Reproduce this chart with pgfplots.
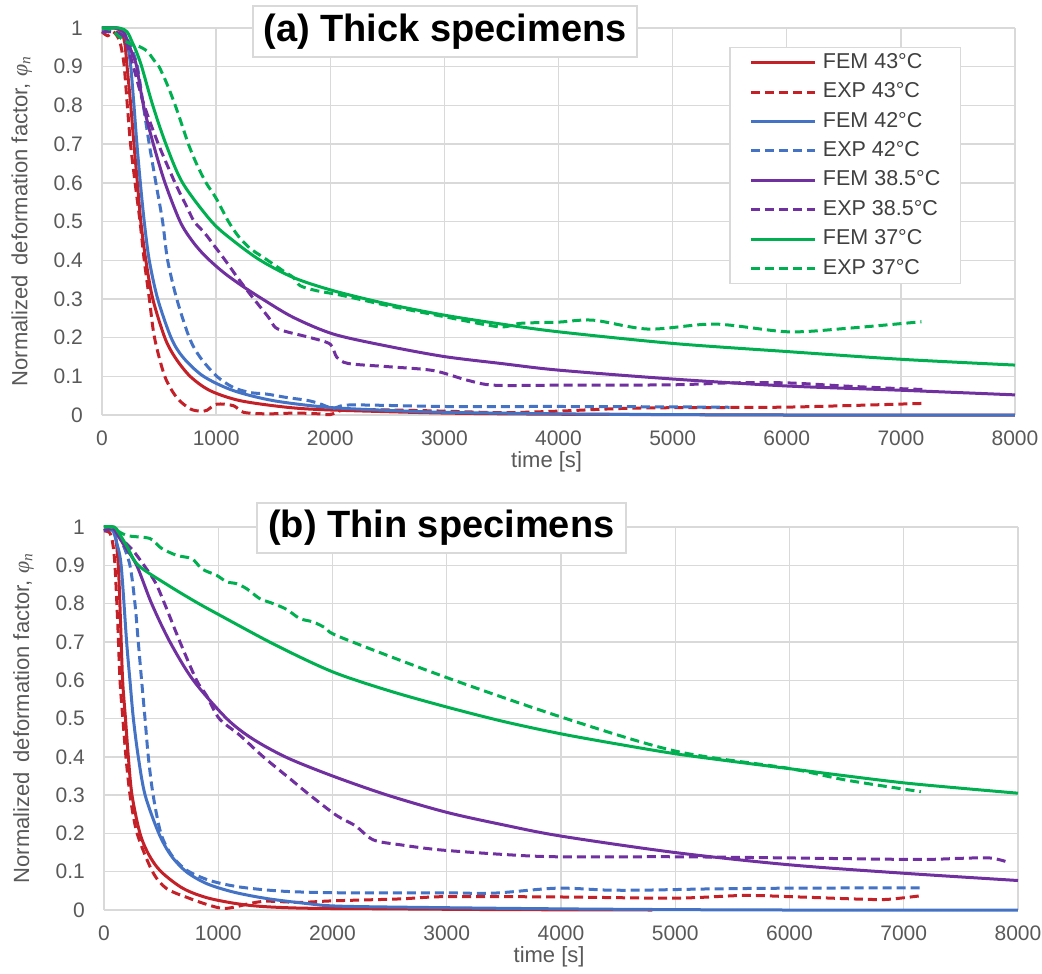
\documentclass[border=0pt]{standalone}
\usepackage{fontspec}
\setmainfont{Liberation Sans}
\newfontfamily\phifont{Liberation Serif}
\usepackage{pgfplots}
\pgfplotsset{compat=1.18}

\definecolor{cRed}{RGB}{196,32,40}
\definecolor{cBlue}{RGB}{68,114,196}
\definecolor{cPurple}{RGB}{112,48,160}
\definecolor{cGreen}{RGB}{0,176,80}
\definecolor{cGrid}{RGB}{217,217,217}
\definecolor{cText}{RGB}{89,89,89}
\definecolor{cLeg}{RGB}{64,64,64}

\tikzset{
  fem/.style={line width=3pt, smooth, tension=0.5},
  exp/.style={line width=3pt, smooth, tension=0.5, dash pattern=on 9pt off 5pt},
  titlebox/.style={draw=cGrid, line width=1.5pt, fill=white, inner sep=0pt,
    font=\bfseries\fontsize{38}{38}\selectfont, text=black},
}

\pgfplotsset{
  panel/.style={
    scale only axis, anchor=south west,
    xmin=0, xmax=8000, ymin=0, ymax=1,
    xtick={0,1000,2000,3000,4000,5000,6000,7000,8000},
    ytick={0,0.1,0.2,0.3,0.4,0.5,0.6,0.7,0.8,0.9,1},
    grid=major, grid style={cGrid, line width=1.4pt},
    axis line style={draw=none},
    major tick length=0pt,
    tick label style={font=\fontsize{21}{21}\selectfont, text=cText},
    /pgf/number format/assume math mode=true,
    /pgf/number format/1000 sep={},
    yticklabel style={anchor=east, inner sep=0pt, xshift=-19pt},
    xticklabel style={anchor=north, inner sep=0pt, yshift=-16pt},
    xlabel={time [s]},
    xlabel style={at={(axis description cs:0.487,0)}, anchor=base, yshift=-52pt,
      inner sep=0pt, font=\fontsize{22}{22}\selectfont, text=cText},
    ylabel={Normalized\hspace{0.45em}deformation factor, {\phifont\itshape φ\textsubscript{n}}},
    ylabel style={at={(axis description cs:-0.088,0.5)}, anchor=center,
      font=\fontsize{22}{22}\selectfont, text=cText},
    clip=false,
  },
}

\begin{document}
\begin{tikzpicture}
\path[use as bounding box] (0,0) rectangle (1042pt,-974pt);

% (a) thick specimens
\begin{axis}[panel, at={(102pt,-415pt)}, width=913pt, height=387pt,
  legend style={at={(0.687,0.951)}, anchor=north west, draw=cGrid, line width=1.5pt,
    fill=white, font=\fontsize{21.5}{21.5}\selectfont, text=cLeg,
    inner xsep=20pt, inner ysep=5pt, row sep=9.4pt,
    nodes={inner sep=0pt, text height=15.5pt, text depth=4.5pt},
    /tikz/every odd column/.append style={column sep=6pt}},
  legend cell align=left,
  legend image code/.code={\draw[#1] (0pt,0pt) -- (64pt,0pt);},
]
\addplot[fem, cRed] coordinates {(0,1)(110,1)(170,0.99)(200,0.96)(220,0.9)(252,0.8)(280,0.7)(310,0.6)(340,0.5)(384,0.4)(445,0.3)(550,0.2)(640,0.149)(772,0.1)(947,0.063)(1211,0.037)(1620,0.02)(2000,0.013)(3000,0.005)(4000,0.002)(5000,0.001)(6000,0)(8000,0)};
\addplot[exp, cRed] coordinates {(0,0.99)(50,0.98)(100,0.99)(150,0.97)(175,0.94)(195,0.9)(222,0.8)(250,0.7)(290,0.6)(333,0.5)(370,0.4)(415,0.3)(460,0.2)(550,0.1)(655,0.045)(772,0.016)(860,0.01)(918,0.012)(1006,0.028)(1152,0.024)(1240,0.007)(1444,0.003)(1700,0.005)(1900,0.003)(2000,0.001)(2100,0.012)(2300,0.014)(3000,0.01)(3500,0.006)(4000,0.01)(4700,0.018)(5900,0.02)(6500,0.024)(7200,0.03)};
\addplot[fem, cBlue] coordinates {(0,1)(130,1)(190,0.99)(222,0.96)(252,0.9)(280,0.8)(306,0.7)(336,0.6)(370,0.5)(414,0.4)(488,0.3)(605,0.2)(710,0.149)(889,0.1)(1152,0.063)(1503,0.037)(1971,0.02)(2500,0.012)(3000,0.007)(4000,0.003)(5000,0.001)(6000,0)(8000,0)};
\addplot[exp, cBlue] coordinates {(0,0.99)(100,0.99)(200,0.98)(255,0.95)(310,0.9)(362,0.8)(414,0.7)(472,0.6)(531,0.5)(575,0.4)(655,0.3)(765,0.2)(860,0.149)(1006,0.1)(1152,0.071)(1300,0.058)(1444,0.054)(1623,0.045)(1795,0.038)(1900,0.03)(2032,0.017)(2178,0.026)(3000,0.022)(4000,0.022)(5000,0.021)(5500,0.02)};
\addplot[fem, cPurple] coordinates {(0,1)(130,1)(190,0.99)(230,0.96)(270,0.93)(304,0.9)(363,0.8)(450,0.7)(552,0.6)(684,0.5)(790,0.45)(900,0.412)(1050,0.372)(1211,0.337)(1415,0.298)(1678,0.252)(2029,0.209)(2500,0.178)(3000,0.151)(3500,0.133)(4000,0.116)(5000,0.093)(6000,0.075)(7000,0.064)(8000,0.052)};
\addplot[exp, cPurple] coordinates {(0,0.99)(100,0.99)(180,0.98)(225,0.95)(275,0.9)(370,0.8)(494,0.7)(640,0.6)(740,0.54)(808,0.5)(900,0.47)(990,0.435)(1079,0.4)(1200,0.35)(1330,0.3)(1460,0.252)(1520,0.226)(1620,0.215)(1825,0.2)(2000,0.183)(2058,0.149)(2160,0.133)(2500,0.125)(2900,0.115)(3200,0.09)(3436,0.077)(4000,0.077)(5000,0.078)(5500,0.083)(6000,0.083)(6500,0.075)(7000,0.068)(7200,0.066)};
\addplot[fem, cGreen] coordinates {(0,1)(150,1)(220,0.99)(270,0.96)(300,0.94)(348,0.9)(445,0.8)(560,0.7)(706,0.6)(960,0.5)(1152,0.45)(1386,0.4)(1678,0.355)(2029,0.321)(2500,0.287)(3000,0.258)(3500,0.235)(4000,0.215)(5000,0.185)(6000,0.164)(7000,0.144)(8000,0.129)};
\addplot[exp, cGreen] coordinates {(0,1)(80,0.995)(160,0.975)(246,0.959)(304,0.955)(392,0.941)(460,0.915)(500,0.9)(570,0.855)(642,0.8)(700,0.75)(757,0.7)(830,0.648)(912,0.6)(1000,0.56)(1108,0.5)(1200,0.46)(1300,0.43)(1400,0.41)(1500,0.39)(1600,0.37)(1678,0.355)(1737,0.334)(1883,0.321)(2088,0.31)(2500,0.283)(3000,0.254)(3480,0.228)(3670,0.237)(4000,0.24)(4305,0.245)(4790,0.222)(5370,0.235)(6010,0.215)(6530,0.224)(7180,0.241)};
\legend{FEM 43°C, EXP 43°C, FEM 42°C, EXP 42°C, FEM 38.5°C, EXP 38.5°C, FEM 37°C, EXP 37°C}
\node[titlebox, minimum width=384pt, minimum height=51pt] at (rel axis cs:0.3757,0.991) {(a) Thick specimens};
\end{axis}

% (b) thin specimens
\begin{axis}[panel, at={(104pt,-910pt)}, width=914pt, height=383pt]
\addplot[fem, cRed] coordinates {(0,1)(60,1)(95,0.99)(125,0.9)(145,0.75)(163,0.6)(188,0.5)(213,0.4)(245,0.3)(315,0.2)(395,0.143)(500,0.1)(694,0.056)(927,0.03)(1277,0.012)(1714,0.005)(2500,0.003)(3500,0.001)(4800,0)};
\addplot[exp, cRed] coordinates {(0,0.99)(50,0.985)(75,0.96)(96,0.9)(120,0.75)(140,0.6)(165,0.5)(192,0.4)(228,0.3)(290,0.2)(425,0.1)(548,0.056)(752,0.03)(927,0.012)(1044,0.004)(1150,0.008)(1277,0.017)(1423,0.023)(1716,0.02)(2008,0.024)(2592,0.029)(3000,0.035)(4000,0.034)(5000,0.031)(5596,0.038)(5990,0.035)(6656,0.028)(6870,0.028)(7170,0.038)};
\addplot[fem, cBlue] coordinates {(0,1)(50,1)(80,0.99)(110,0.96)(150,0.9)(198,0.7)(227,0.6)(257,0.5)(300,0.4)(360,0.3)(480,0.2)(585,0.143)(720,0.1)(898,0.069)(1131,0.047)(1423,0.03)(1773,0.017)(2064,0.01)(3000,0.006)(4000,0.003)(5000,0.001)(6000,0)(8000,0)};
\addplot[exp, cBlue] coordinates {(0,0.99)(40,0.995)(82,0.987)(150,0.965)(227,0.9)(271,0.8)(300,0.7)(329,0.6)(359,0.5)(388,0.4)(430,0.3)(498,0.2)(592,0.143)(723,0.104)(927,0.077)(1190,0.06)(1569,0.049)(2064,0.045)(2940,0.045)(3407,0.044)(3962,0.057)(4400,0.052)(4744,0.052)(5290,0.055)(5990,0.057)(7170,0.058)};
\addplot[fem, cPurple] coordinates {(0,1)(70,1)(120,0.98)(180,0.95)(286,0.9)(417,0.8)(577,0.7)(781,0.6)(1073,0.5)(1300,0.447)(1600,0.398)(2000,0.35)(2480,0.3)(3000,0.255)(3500,0.222)(4000,0.193)(5000,0.15)(6000,0.118)(7000,0.096)(8000,0.077)};
\addplot[exp, cPurple] coordinates {(0,0.99)(80,0.995)(150,0.97)(250,0.94)(350,0.9)(450,0.855)(530,0.8)(665,0.7)(810,0.6)(898,0.56)(1008,0.5)(1190,0.456)(1394,0.4)(1627,0.343)(1802,0.3)(2035,0.247)(2200,0.22)(2358,0.183)(2600,0.17)(2940,0.157)(3500,0.145)(3962,0.139)(5000,0.139)(5990,0.136)(7110,0.132)(7500,0.135)(7750,0.136)(7890,0.127)};
\addplot[fem, cGreen] coordinates {(0,1)(90,1)(130,0.985)(200,0.95)(300,0.9)(550,0.85)(800,0.805)(1000,0.772)(1500,0.692)(2000,0.622)(2500,0.572)(3000,0.53)(3500,0.492)(4000,0.46)(4500,0.433)(5000,0.408)(5500,0.388)(6000,0.369)(6500,0.35)(7000,0.332)(7500,0.318)(8000,0.305)};
\addplot[exp, cGreen] coordinates {(0,1)(60,1)(198,0.978)(402,0.97)(500,0.945)(636,0.926)(770,0.917)(860,0.89)(985,0.874)(1073,0.857)(1160,0.852)(1248,0.839)(1364,0.813)(1481,0.8)(1598,0.785)(1714,0.761)(1831,0.752)(1948,0.735)(2064,0.713)(2980,0.609)(3990,0.505)(5000,0.415)(5990,0.37)(6500,0.339)(7150,0.309)};
\node[titlebox, minimum width=369pt, minimum height=50pt] at (rel axis cs:0.369,0.9974) {(b) Thin specimens};
\end{axis}
\end{tikzpicture}
\end{document}
